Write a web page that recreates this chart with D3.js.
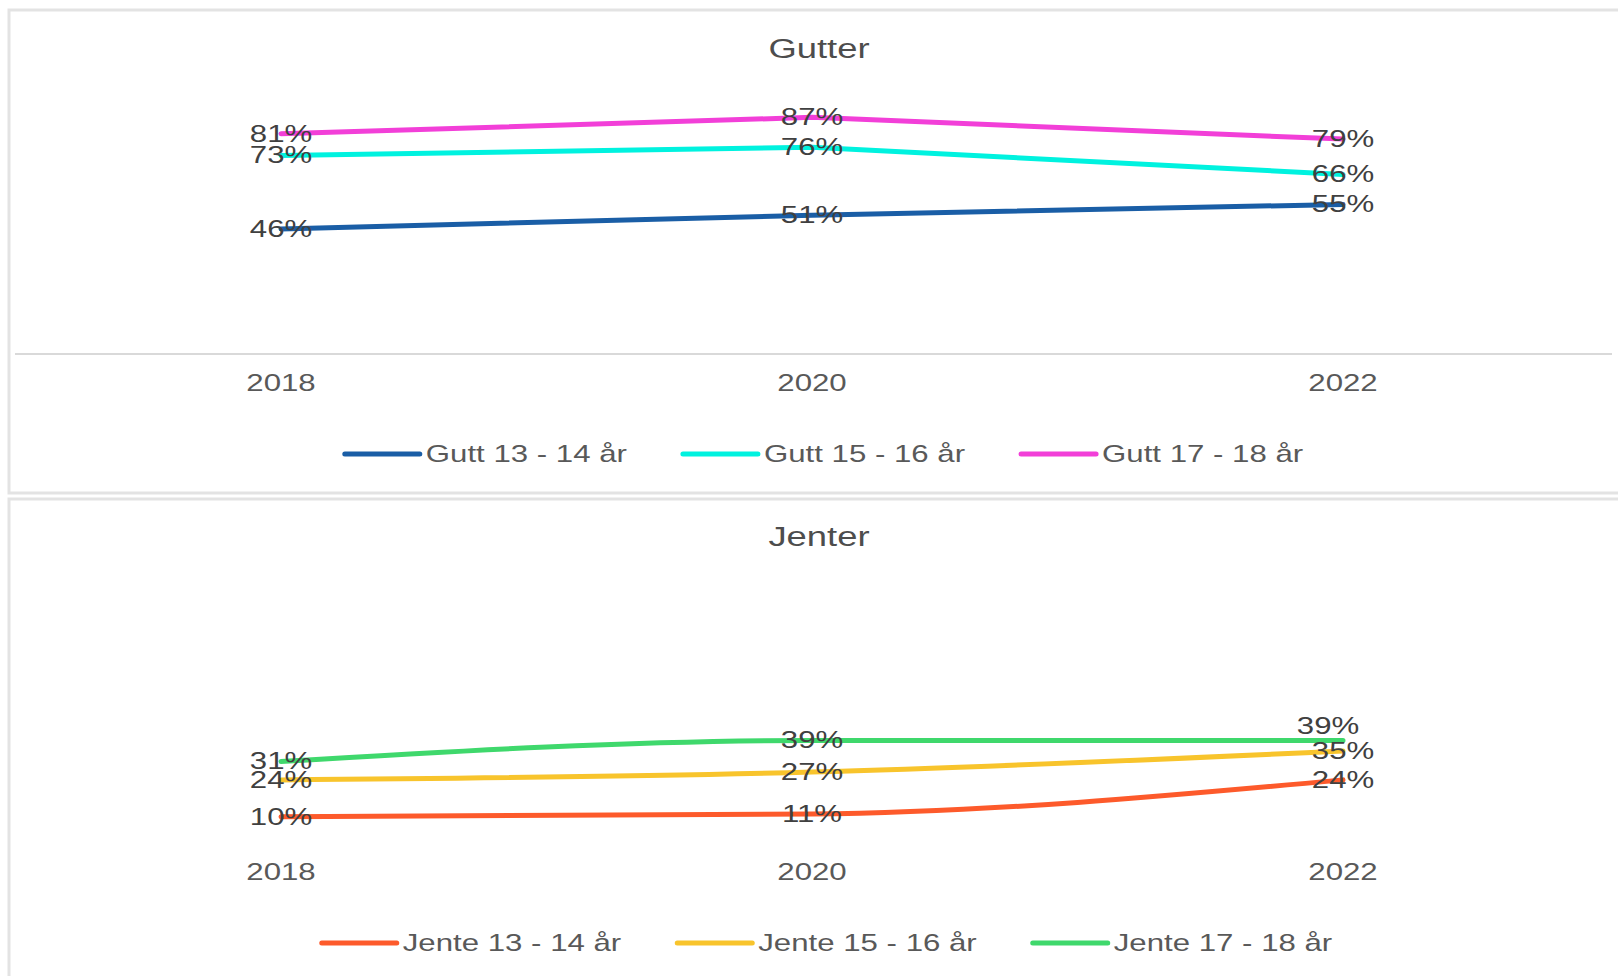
<!DOCTYPE html>
<html>
<head>
<meta charset="utf-8">
<script src="https://cdn.jsdelivr.net/npm/d3@7"></script>
<style>
  body { margin: 0; background: #fff; }
  text { font-family: "Liberation Sans", Arial, sans-serif; }
</style>
</head>
<body>
<script>
// data
var years = ['2018', '2020', '2022'];

var guttNames = ['Gutt 13 - 14 år', 'Gutt 15 - 16 år', 'Gutt 17 - 18 år'];
var gutt1314 = [46, 51, 55];
var gutt1516 = [73, 76, 66];
var gutt1718 = [81, 87, 79];

var jenteNames = ['Jente 13 - 14 år', 'Jente 15 - 16 år', 'Jente 17 - 18 år'];
var jente1314 = [10, 11, 24];
var jente1516 = [24, 27, 35];
var jente1718 = [31, 39, 39];

var guttColors = ['#1a5ea6', '#00f2df', '#f23fd8'];
var jenteColors = ['#fd5a2b', '#f8c42c', '#3fd86c'];

var W = 1618, H = 976;
var sx = 1.3; // text in the picture is stretched sideways

var svg = d3.select('body').append('svg')
  .attr('width', W)
  .attr('height', H);

var x = d3.scalePoint().domain(years).range([281, 1343]);

function stretchedText(g, tx, ty, str, size, anchor, fill) {
  return g.append('text')
    .attr('transform', 'translate(' + tx + ',' + ty + ') scale(' + sx + ',1)')
    .attr('text-anchor', anchor)
    .attr('font-size', size)
    .attr('fill', fill)
    .text(str);
}

function drawPanel(opts) {
  var g = svg.append('g');

  g.append('rect')
    .attr('x', opts.box[0]).attr('y', opts.box[1])
    .attr('width', opts.box[2]).attr('height', opts.box[3])
    .attr('fill', 'none')
    .attr('stroke', '#e3e3e3')
    .attr('stroke-width', 3);

  var y = d3.scaleLinear().domain([0, 100]).range(opts.yRange);

  if (opts.axisLine) {
    g.append('line')
      .attr('x1', 15).attr('x2', 1612)
      .attr('y1', y(0)).attr('y2', y(0))
      .attr('stroke', '#d9d9d9')
      .attr('stroke-width', 2);
  }

  stretchedText(g, 819, opts.titleY, opts.title, 28, 'middle', '#4d4d4d');

  var line = d3.line()
    .x(function(d, i) { return x(years[i]); })
    .y(function(d) { return y(d); })
    .curve(opts.curve);

  opts.series.forEach(function(s, k) {
    g.append('path')
      .attr('d', line(s))
      .attr('fill', 'none')
      .attr('stroke', opts.colors[k])
      .attr('stroke-width', 5)
      .attr('stroke-linecap', 'round')
      .attr('stroke-linejoin', 'round');
  });

  opts.series.forEach(function(s, k) {
    s.forEach(function(v, i) {
      var off = (opts.labelShift[k] && opts.labelShift[k][i]) || [0, 0];
      stretchedText(g, x(years[i]) + off[0], y(v) + 8 + off[1], v + '%', 24, 'middle', '#404040');
    });
  });

  years.forEach(function(yr) {
    stretchedText(g, x(yr), opts.tickY, yr, 24, 'middle', '#595959');
  });

  // legend, centred under the plot
  var items = opts.names.map(function(n, k) {
    var t = stretchedText(g, 0, 0, n, 24, 'start', '#595959');
    var w = t.node().getComputedTextLength() * sx;
    t.remove();
    return { name: n, color: opts.colors[k], w: w };
  });
  var lineLen = 75, gapText = 6, gapItem = 56;
  var total = d3.sum(items, function(d) { return lineLen + gapText + d.w; }) + gapItem * (items.length - 1);
  var cx = opts.legendCx - total / 2;
  items.forEach(function(it) {
    g.append('line')
      .attr('x1', cx).attr('x2', cx + lineLen)
      .attr('y1', opts.legendY).attr('y2', opts.legendY)
      .attr('stroke', it.color)
      .attr('stroke-width', 5)
      .attr('stroke-linecap', 'round');
    stretchedText(g, cx + lineLen + gapText, opts.legendY + 8, it.name, 24, 'start', '#595959');
    cx += lineLen + gapText + it.w + gapItem;
  });
}

drawPanel({
  box: [9, 10, 1630, 483],
  title: 'Gutter',
  titleY: 58,
  yRange: [354, 82],
  axisLine: true,
  curve: d3.curveLinear,
  series: [gutt1314, gutt1516, gutt1718],
  names: guttNames,
  colors: guttColors,
  labelShift: {},
  tickY: 391,
  legendY: 454,
  legendCx: 824
});

drawPanel({
  box: [9, 499, 1630, 500],
  title: 'Jenter',
  titleY: 546,
  yRange: [843, 580],
  axisLine: false,
  curve: d3.curveMonotoneX,
  series: [jente1314, jente1516, jente1718],
  names: jenteNames,
  colors: jenteColors,
  labelShift: { 2: [null, null, [-15, -14]] },
  tickY: 880,
  legendY: 943,
  legendCx: 827
});
</script>
</body>
</html>
